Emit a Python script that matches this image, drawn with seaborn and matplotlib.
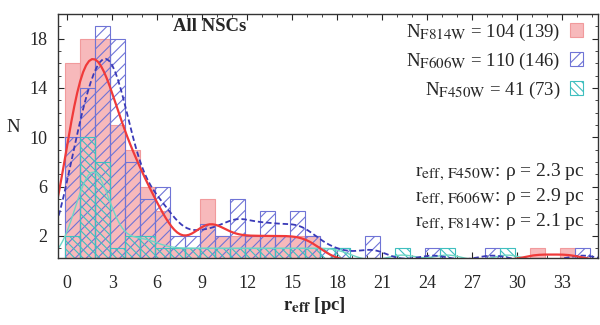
import numpy as np
import matplotlib
matplotlib.use('Agg')
import matplotlib.pyplot as plt
import matplotlib.patches as mpatches
from matplotlib.ticker import MultipleLocator, FixedLocator
import seaborn as sns

try:
    # subscripts in the original are only a little smaller than the text
    import matplotlib._mathtext as _mt
    _mt.SHRINK_FACTOR = 0.8
except Exception:
    pass

# histogram bins, 1 pc wide
bin_edges = np.arange(-0.15, 35.0, 1.0)

# counts per bin
n_f814w = [16, 18, 18, 11, 9, 6, 4, 1, 1, 5, 2, 2, 2, 2, 2, 2, 2, 0, 0, 0, 0, 0, 0, 0,
           0, 0, 0, 0, 0, 0, 0, 1, 0, 1, 0]
n_f606w = [10, 14, 19, 18, 8, 5, 6, 2, 2, 3, 2, 5, 2, 4, 2, 4, 2, 1, 1, 0, 2, 0, 0, 0,
           1, 0, 0, 0, 1, 0, 0, 0, 0, 0, 1]
n_f450w = [2, 10, 8, 1, 2, 2, 1, 1, 1, 1, 1, 1, 1, 1, 1, 1, 1, 1, 1, 0, 0, 0, 1, 0,
           0, 1, 0, 0, 0, 1, 0, 0, 0, 0, 0]

legend_labels = [r'N$_{\rm F814W}$ = 104 (139)',
                 r'N$_{\rm F606W}$ = 110 (146)',
                 r'N$_{\rm F450W}$ = 41 (73)']
peak_labels = [r'r$_{\rm eff,\,F450W}$: ρ = 2.3 pc',
               r'r$_{\rm eff,\,F606W}$: ρ = 2.9 pc',
               r'r$_{\rm eff,\,F814W}$: ρ = 2.1 pc']
xticks = [0, 3, 6, 9, 12, 15, 18, 21, 24, 27, 30, 33]
yticks = [2, 6, 10, 14, 18]

c_red, c_red_fill = '#f03a3a', '#f7b9bb'
c_blue, c_blue_line = '#6f74d6', '#3a3ab8'
c_cyan, c_cyan_line = '#3fbfbf', '#6fd6c6'

sns.set_style('ticks')
plt.rcParams['font.family'] = ['Liberation Serif', 'DejaVu Serif']
plt.rcParams['mathtext.fontset'] = 'stix'
plt.rcParams['hatch.linewidth'] = 0.8

centers = bin_edges[:-1] + 0.5


def samples(counts):
    return np.repeat(centers, counts)


fig = plt.figure(figsize=(6, 3.25), dpi=100)
ax = fig.add_axes([0.097, 0.206, 0.9, 0.751])

# histograms
hist_styles = [
    (n_f814w, dict(facecolor=c_red_fill, edgecolor='#f19a9c', hatch=None)),
    (n_f606w, dict(facecolor='none', edgecolor=c_blue, hatch='///')),
    (n_f450w, dict(facecolor='none', edgecolor=c_cyan, hatch='\\\\\\\\')),
]
for counts, st in hist_styles:
    n0 = len(ax.patches)
    sns.histplot(x=samples(counts), bins=bin_edges, ax=ax, color=st['edgecolor'])
    for p in ax.patches[n0:]:
        p.set_facecolor(st['facecolor'])
        p.set_edgecolor(st['edgecolor'])
        p.set_linewidth(0.8)
        p.set_alpha(None)
        if st['hatch']:
            p.set_hatch(st['hatch'])

# kde curves scaled to counts
kde_styles = [
    (n_f450w, 0.9, dict(color=c_cyan_line, lw=1.0, ls='-')),
    (n_f606w, 1.0, dict(color=c_blue_line, lw=1.3, ls=(0, (3, 1.6)))),
    (n_f814w, 1.0, dict(color=c_red, lw=1.6, ls='-')),
]
for counts, bw, st in kde_styles:
    s = samples(counts)
    n0 = len(ax.lines)
    sns.kdeplot(x=s, bw_method=bw / s.std(), cut=3, ax=ax, **st)
    for ln in ax.lines[n0:]:
        ln.set_ydata(np.asarray(ln.get_ydata()) * len(s))

ax.set_xlim(-0.6, 35.4)
ax.set_ylim(0.2, 20)
ax.xaxis.set_major_locator(FixedLocator(xticks))
ax.xaxis.set_minor_locator(MultipleLocator(1))
ax.yaxis.set_major_locator(FixedLocator(yticks))
ax.yaxis.set_minor_locator(MultipleLocator(1))
ax.tick_params(which='both', direction='in', top=True, right=True, labelsize=13)
ax.tick_params(axis='x', pad=12)
ax.tick_params(axis='y', pad=8)
ax.tick_params(which='major', length=4, width=0.8)
ax.tick_params(which='minor', length=2.5, width=0.6)
for sp in ax.spines.values():
    sp.set_linewidth(1.0)
    sp.set_color('#333333')

ax.set_xlabel(r'$\mathbf{r_{eff}}$ [pc]', fontsize=13.5, fontweight='bold')
ax.xaxis.set_label_coords(0.475, -0.15)
ax.set_ylabel('N', fontsize=13.5, rotation=0, va='center')
ax.yaxis.set_label_coords(-0.083, 0.535)

ax.text(0.28, 0.95, 'All NSCs', transform=ax.transAxes, fontsize=13.5,
        fontweight='bold', ha='center', va='center')

handles = [mpatches.Patch(facecolor=c_red_fill, edgecolor='#f19a9c', lw=0.8),
           mpatches.Patch(facecolor='none', edgecolor=c_blue, hatch='///', lw=0.8),
           mpatches.Patch(facecolor='none', edgecolor=c_cyan, hatch='\\\\\\\\', lw=0.8)]
ax.legend(handles, legend_labels, loc='upper right', frameon=False, markerfirst=False,
          fontsize=13.5, handlelength=0.65, handleheight=0.8, labelspacing=0.42,
          handletextpad=0.55, borderaxespad=0.0, bbox_to_anchor=(0.985, 1.0))

for i, t in enumerate(peak_labels):
    ax.text(0.976, 0.35 - i * 0.101, t, transform=ax.transAxes, fontsize=14,
            ha='right', va='center')

fig.savefig('out.png', dpi=100)
